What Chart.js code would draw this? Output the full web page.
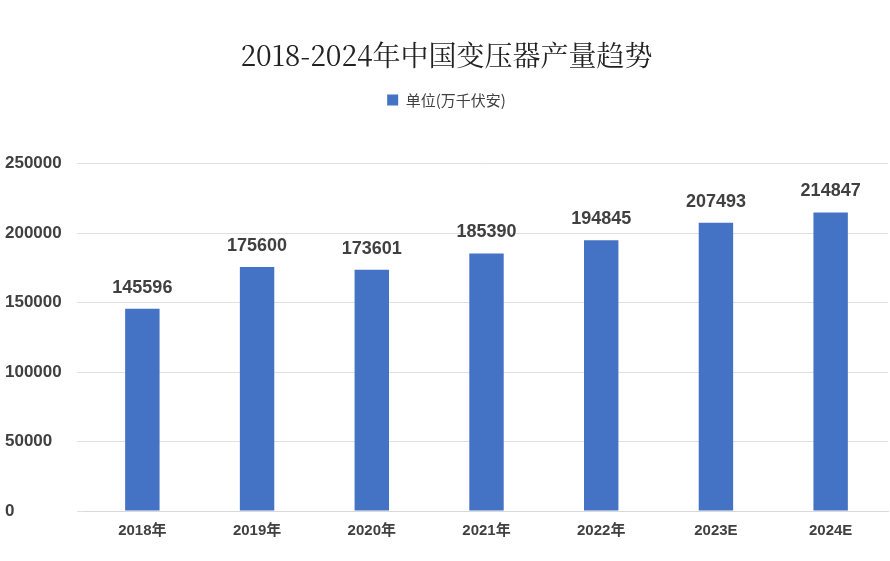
<!DOCTYPE html>
<html>
<head>
<meta charset="utf-8">
<script src="https://cdn.jsdelivr.net/npm/chart.js@4/dist/chart.umd.min.js"></script>
<style>
  body { margin: 0; background: #fff; }
  #wrap { width: 890px; height: 561px; }
</style>
</head>
<body>
<div id="wrap"><canvas id="c"></canvas></div>
<script>
const categories = ['2018年', '2019年', '2020年', '2021年', '2022年', '2023E', '2024E'];
const production = [145596, 175600, 173601, 185390, 194845, 207493, 214847];
const yTicks = [0, 50000, 100000, 150000, 200000, 250000];

// labels above bars
const valueLabels = {
    id: 'valueLabels',
    afterInit(chart) {
        // extra gap between legend and plot area
        const lg = chart.legend;
        const fit = lg.fit.bind(lg);
        lg.fit = function () { fit(); this.height += 46; };
    },
    afterDatasetsDraw(chart) {
        const ctx = chart.ctx;
        const meta = chart.getDatasetMeta(0);
        ctx.save();
        ctx.font = 'bold 18px "Liberation Sans", Arial';
        ctx.fillStyle = '#404040';
        ctx.textAlign = 'center';
        ctx.textBaseline = 'bottom';
        meta.data.forEach((bar, i) => {
            ctx.fillText(production[i], bar.x, bar.y - 12);
        });
        ctx.restore();
    }
};

new Chart(document.getElementById('c'), {
    type: 'bar',
    data: {
        labels: categories,
        datasets: [{
            label: '单位(万千伏安)',
            data: production,
            backgroundColor: '#4472C4',
            barPercentage: 0.3,
            categoryPercentage: 1
        }]
    },
    options: {
        responsive: true,
        maintainAspectRatio: false,
        animation: false,
        layout: { padding: { left: 5, right: 2, top: 39, bottom: 18 } },
        plugins: {
            title: {
                display: true,
                text: '2018-2024年中国变压器产量趋势',
                font: { family: '"Noto Serif CJK SC", "Noto Sans CJK SC", serif', size: 28, weight: 'normal' },
                color: '#222',
                padding: { top: 0, bottom: 10 }
            },
            legend: {
                labels: {
                    boxWidth: 11, boxHeight: 11,
                    padding: 10,
                    font: { family: '"Noto Sans CJK SC"', size: 15 },
                    color: '#404040'
                }
            },
            tooltip: { enabled: false }
        },
        scales: {
            x: {
                grid: { display: false },
                border: { color: '#d9d9d9' },
                ticks: { font: { family: '"Liberation Sans", "Noto Sans CJK SC"', size: 15, weight: 'bold' }, color: '#404040' }
            },
            y: {
                min: 0, max: 250000,
                afterBuildTicks: axis => { axis.ticks = yTicks.map(v => ({ value: v })); },
                afterFit: axis => { axis.width = 80; },
                grid: { color: '#e0e0e0' },
                border: { display: false },
                ticks: {
                    font: { family: '"Liberation Sans"', size: 17, weight: 'bold' }, color: '#404040',
                    padding: 8, crossAlign: 'far',
                    callback: v => String(v)
                }
            }
        }
    },
    plugins: [valueLabels]
});
</script>
</body>
</html>
